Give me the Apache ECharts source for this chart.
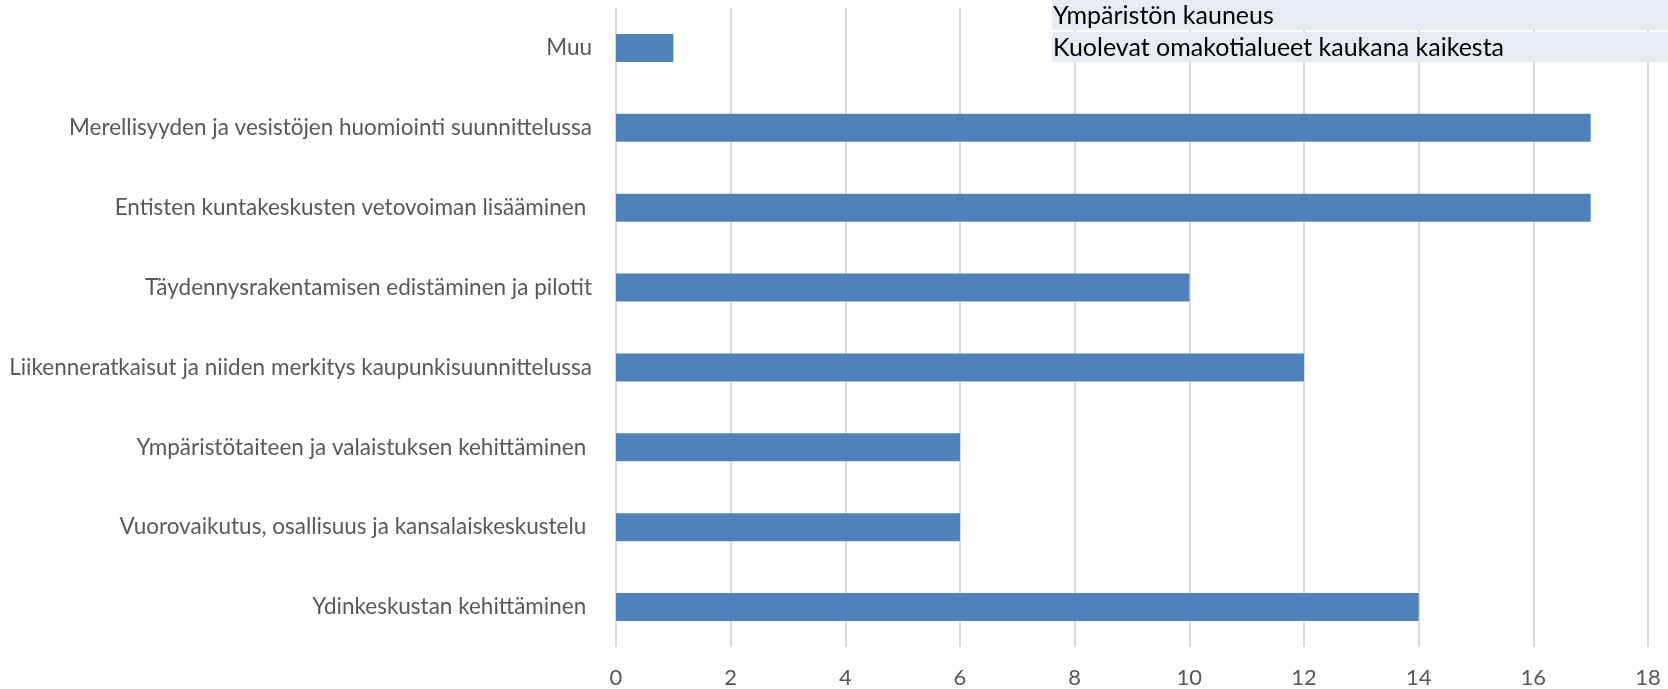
<!DOCTYPE html>
<html>
<head>
<meta charset="utf-8">
<script src="https://cdn.jsdelivr.net/npm/echarts@6/dist/echarts.min.js"></script>
<style>
  html, body { margin: 0; padding: 0; background: #fff; }
  #chart { width: 1668px; height: 689px; }
</style>
</head>
<body>
<div id="chart"></div>
<script>
// kategoriat ylhäältä alas
const categories = [
  'Muu',
  'Merellisyyden ja vesistöjen huomiointi suunnittelussa',
  'Entisten kuntakeskusten vetovoiman lisääminen ',
  'Täydennysrakentamisen edistäminen ja pilotit',
  'Liikenneratkaisut ja niiden merkitys kaupunkisuunnittelussa',
  'Ympäristötaiteen ja valaistuksen kehittäminen ',
  'Vuorovaikutus, osallisuus ja kansalaiskeskustelu ',
  'Ydinkeskustan kehittäminen '
]
const values = [1, 17, 17, 10, 12, 6, 6, 14]
const overlayLabels = ['Ympäristön kauneus', 'Kuolevat omakotialueet kaukana kaikesta']

const font = 'Lato, "Open Sans", sans-serif'
const textColor = '#595959'

const chart = echarts.init(document.getElementById('chart'))

chart.setOption({
  animation: false,
  grid: { left: 616, right: 20, top: 8, bottom: 41 },
  xAxis: {
    type: 'value',
    min: 0,
    max: 18,
    interval: 2,
    axisLine: { show: false },
    axisTick: { show: false },
    axisLabel: { color: textColor, fontSize: 22, fontFamily: font, margin: 20 },
    splitLine: { lineStyle: { color: '#d9d9d9', width: 2 } }
  },
  yAxis: {
    type: 'category',
    data: categories,
    inverse: true,
    axisLine: { show: false },
    axisTick: { show: false },
    axisLabel: { color: textColor, fontSize: 22.5, fontFamily: font, margin: 24 }
  },
  series: [{
    type: 'bar',
    data: values,
    barWidth: 28,
    itemStyle: { color: '#4f81bd' }
  }],
  // tekstilaatikot oikeassa yläkulmassa, ruudukon päällä
  graphic: overlayLabels.flatMap((t, i) => [
    {
      type: 'rect',
      z: 100,
      left: 1052, top: i * 32,
      shape: { width: 616, height: 30 },
      style: { fill: '#e7ecf4' }
    },
    {
      type: 'text',
      z: 101,
      x: 1053, y: i * 32 + 16,
      style: { text: t, fontSize: 25, fontFamily: font, fill: '#000', verticalAlign: 'middle' }
    }
  ])
})
</script>
</body>
</html>
